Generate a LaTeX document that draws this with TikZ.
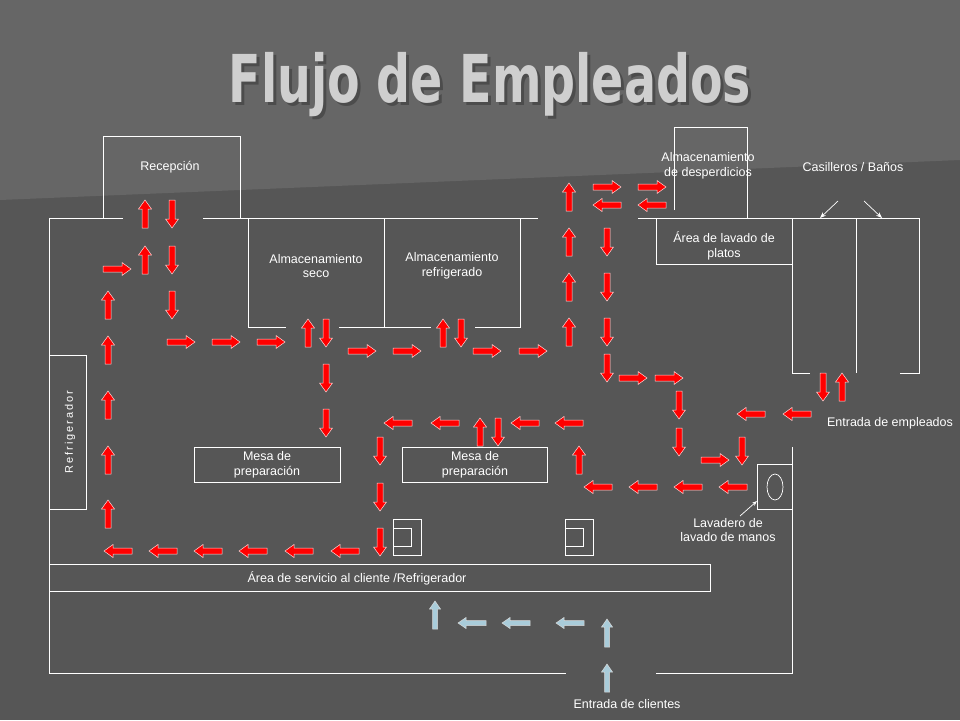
\documentclass[tikz,border=0pt]{standalone}
\usepackage{fontspec}
\setmainfont{Liberation Sans}
\newfontfamily\titlefont{DejaVu Sans}
\usetikzlibrary{arrows.meta}
\definecolor{bgdark}{HTML}{565656}
\definecolor{bglight}{HTML}{666666}
\definecolor{titlegray}{HTML}{CFCFCF}
\definecolor{custblue}{HTML}{A9CCDA}

\tikzset{
  wall/.style={white, line width=0.9pt},
  lbl/.style={text=white, font=\fontsize{12.5}{14.5}\selectfont, align=center, inner sep=0pt},
  redarrow/.style={fill=red, draw=white!85!red, line width=0.5pt},
  bluearrow/.style={fill=custblue, draw=white!70!gray, line width=0.5pt}
}
% red block arrow: x, y, angle
\newcommand{\fa}[3]{%
  \begin{scope}[shift={(#1,#2)}, rotate=#3]
    \draw[redarrow] (-14,-3) -- (5,-3) -- (5,-6.5) -- (14,0) -- (5,6.5) -- (5,3) -- (-14,3) -- cycle;
  \end{scope}}
% blue customer arrow
\newcommand{\ca}[3]{%
  \begin{scope}[shift={(#1,#2)}, rotate=#3]
    \draw[bluearrow] (-14,-2.5) -- (6,-2.5) -- (6,-5.5) -- (14,0) -- (6,5.5) -- (6,2.5) -- (-14,2.5) -- cycle;
  \end{scope}}

\begin{document}
\begin{tikzpicture}[x=1pt, y=-1pt]
    % Background
    \fill[bgdark] (0,0) rectangle (960,720);
    \fill[bglight] (0,0) -- (960,0) -- (960,160) -- (0,200) -- cycle;
    \useasboundingbox (0,0) rectangle (960,720);

    % Title
    \node[text=black!70, font=\titlefont\bfseries\fontsize{66}{74}\selectfont, xscale=0.72] (titleshadow) at (493,88) {Flujo de Empleados};
    \node[text=titlegray, font=\titlefont\bfseries\fontsize{66}{74}\selectfont, xscale=0.72] (title) at (490,85) {Flujo de Empleados};

    % Walls
    \draw[wall] (123,218) -- (49,218) -- (49,673) -- (566,673);
    \draw[wall] (656,673) -- (792,673) -- (792,447);
    \draw[wall] (203,218) -- (538,218);
    \draw[wall] (638,218) -- (919,218);
    \draw[wall] (103,218) -- (103,136) -- (240,136) -- (240,218);
    % Storage rooms
    \draw[wall] (248,218) -- (248,327) -- (286,327);
    \draw[wall] (339,327) -- (431,327);
    \draw[wall] (475,327) -- (520,327) -- (520,218);
    \draw[wall] (384,218) -- (384,327);
    \draw[wall] (674,210) -- (674,127) -- (747,127) -- (747,218);
    \draw[wall] (656,218) -- (656,264) -- (792,264);
    % Lockers
    \draw[wall] (792,218) -- (792,373) -- (810,373);
    \draw[wall] (856,218) -- (856,373);
    \draw[wall] (900,373) -- (919,373) -- (919,218);
    % Fridge, tables, counter
    \draw[wall] (49,355) rectangle (86,509);
    \draw[wall] (194,447) rectangle (340,482);
    \draw[wall] (402,447) rectangle (547,482);
    \draw[wall] (49,564) rectangle (710,591);
    \draw[wall] (393,519) rectangle (421,555);
    \draw[wall] (393,528) rectangle (411,546);
    \draw[wall] (565,519) rectangle (593,555);
    \draw[wall] (565,528) rectangle (583,546);
    % Hand sink
    \draw[wall] (757,509) -- (757,464) -- (792,464);
    \draw[wall] (757,509) -- (792,509);
    \draw[white, line width=0.7pt] (775,487) ellipse [x radius=8, y radius=13];

    % Labels
    \node[lbl] (recepcion) at (170,167) {Recepción};
    \node[lbl] (seco) at (316,266) {Almacenamiento\\seco};
    \node[lbl] (refrig) at (452,266) {Almacenamiento\\refrigerado};
    \node[lbl] (desperd) at (708,166) {Almacenamiento\\de desperdicios};
    \node[lbl] (casilleros) at (853,167) {Casilleros / Baños};
    \node[lbl] (platos) at (724,246) {Área de lavado de\\platos};
    \node[lbl, rotate=90, font=\fontsize{11}{13}\selectfont\addfontfeatures{LetterSpace=18}] (refrigerador) at (70,432) {Refrigerador};
    \node[lbl] (mesaA) at (267,465) {Mesa de\\preparación};
    \node[lbl] (mesaB) at (475,465) {Mesa de\\preparación};
    \node[lbl] (servicio) at (357,578) {Área de servicio al cliente /Refrigerador};
    \node[lbl] (entemp) at (890,423) {Entrada de empleados};
    \node[lbl] (lavadero) at (728,530) {Lavadero de\\lavado de manos};
    \node[lbl] (entcli) at (627,704) {Entrada de clientes};

    % Pointers
    \coordinate (casA) at (820,218);
    \coordinate (casB) at (882,218);
    \coordinate (sink) at (757,501);
    \draw[white, -{Stealth[length=6pt]}, line width=0.7pt] (838,201) -- (casA);
    \draw[white, -{Stealth[length=6pt]}, line width=0.7pt] (864,201) -- (casB);
    \draw[white, -{Stealth[length=5pt]}, line width=0.7pt] (740,516) -- (sink);

    % Employee flow
    \foreach \y in {214,260} {\fa{145}{\y}{90}}
    \foreach \y in {214,260,305} {\fa{172}{\y}{-90}}
    \fa{117}{269}{0}
    \foreach \y in {305,350,405,460,514} {\fa{108}{\y}{90}}
    \foreach \x in {181,226,271} {\fa{\x}{342}{0}}
    \fa{308}{333}{90}
    \foreach \y in {333,378,423} {\fa{326}{\y}{-90}}
    \foreach \x in {362,407,487,533} {\fa{\x}{351}{0}}
    \fa{443}{333}{90}
    \fa{461}{333}{-90}
    \foreach \y in {197,242,287,332} {\fa{569}{\y}{90}}
    \foreach \x in {607,652} {\fa{\x}{187}{0}}
    \foreach \x in {607,652} {\fa{\x}{205}{180}}
    \foreach \y in {242,287,332,368} {\fa{607}{\y}{-90}}
    \foreach \x in {633,669} {\fa{\x}{378}{0}}
    \foreach \y in {405,442} {\fa{679}{\y}{-90}}
    \fa{823}{387}{-90}
    \fa{842}{387}{90}
    \foreach \x in {751,797} {\fa{\x}{414}{180}}
    \fa{715}{460}{0}
    \fa{742}{451}{-90}
    \foreach \x in {598,643,688,733} {\fa{\x}{487}{180}}
    \fa{579}{460}{90}
    \foreach \x in {398,445,525,569} {\fa{\x}{423}{180}}
    \fa{480}{432}{90}
    \fa{498}{432}{-90}
    \foreach \y in {451,497,542} {\fa{380}{\y}{-90}}
    \foreach \x in {118,163,208,253,299,345} {\fa{\x}{551}{180}}

    % Customer flow
    \ca{435}{615}{90}
    \foreach \x in {472,516,570} {\ca{\x}{623}{180}}
    \ca{607}{633}{90}
    \ca{607}{678}{90}
\end{tikzpicture}
\end{document}
